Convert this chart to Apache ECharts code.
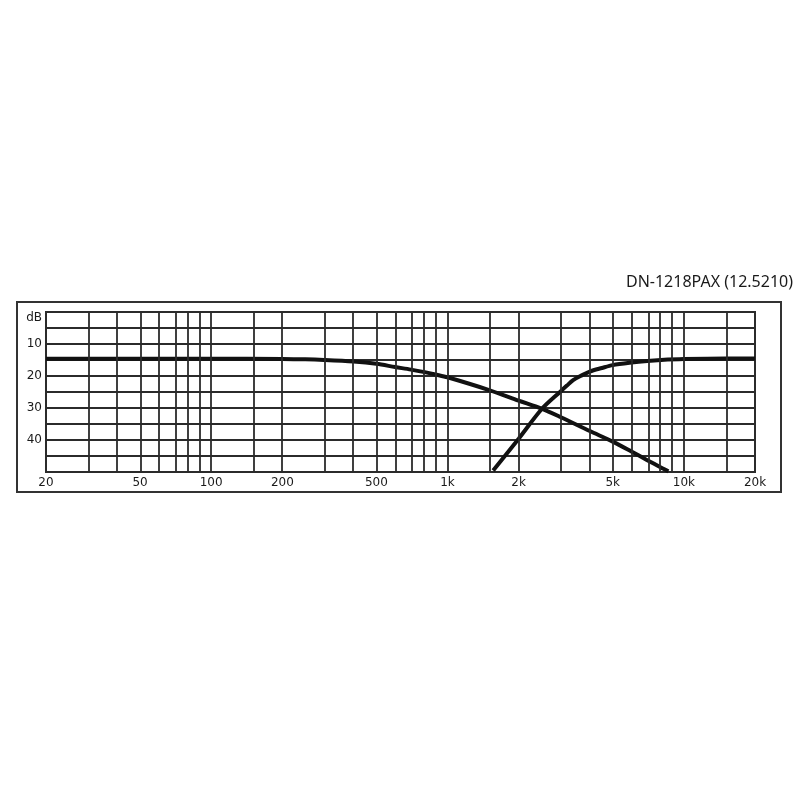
<!doctype html>
<html>
<head>
<meta charset="utf-8">
<title>DN-1218PAX</title>
<style>
	html,body{margin:0;padding:0;background:#fff;}
	#chart{width:800px;height:800px;}
</style>
</head>
<body>
	<div id="chart"></div>
	<script src="https://cdn.jsdelivr.net/npm/echarts@6.0.0/dist/echarts.min.js" type="text/javascript" charset="utf-8"></script>
	<script type="text/javascript">
		// 数据
		var titleText = 'DN-1218PAX (12.5210)';
		var lowFreq = [20, 50, 100, 200, 250, 300, 400, 500, 600, 700, 800, 900, 1000, 1500, 2000, 2500, 3000, 4000, 5000, 6000, 7000, 8000, 8600];
		var lowDb = [14.6, 14.6, 14.6, 14.7, 14.8, 15.0, 15.5, 16.2, 17.2, 18.0, 18.8, 19.6, 20.4, 24.4, 27.7, 30.2, 32.8, 37.2, 40.5, 43.6, 46.3, 48.6, 49.8];
		var highFreq = [1560, 2000, 2500, 3000, 3200, 3400, 3700, 4000, 4500, 5000, 6000, 7000, 8000, 10000, 15000, 20000];
		var highDb = [49.5, 39.6, 30.4, 24.9, 23.0, 21.3, 19.8, 18.6, 17.5, 16.6, 15.8, 15.3, 15.0, 14.7, 14.5, 14.5];
		var gridFreq = [30, 40, 50, 60, 70, 80, 90, 100, 150, 200, 300, 400, 500, 600, 700, 800, 900, 1000, 1500, 2000, 3000, 4000, 5000, 6000, 7000, 8000, 9000, 10000, 15000];
		var labelFreq = [20, 50, 100, 200, 500, 1000, 2000, 5000, 10000, 20000];
		var dbLabels = [10, 20, 30, 40];

		var lg = function(f){ return Math.log10(f); };
		function pairs(fs, ds){
			return fs.map(function(f, i){ return [lg(f), ds[i]]; });
		}
		function fmtFreq(v){
			var f = Math.round(Math.pow(10, v));
			return f >= 1000 ? (f / 1000) + 'k' : String(f);
		}

		var lineColor = '#2b2b2b';
		var chart = echarts.init(document.getElementById('chart'));
		var option = {
			animation: false,
			backgroundColor: '#fff',
			grid: {
				left: 46,
				right: 45,
				top: 312,
				bottom: 328,
				show: true,
				borderColor: lineColor,
				borderWidth: 2
			},
			graphic: [{
				type: 'rect',
				shape: { x: 17, y: 302, width: 764, height: 190 },
				style: { fill: 'none', stroke: '#333', lineWidth: 2 }
			}, {
				type: 'text',
				x: 793,
				y: 282,
				style: {
					text: titleText,
					textAlign: 'right',
					textVerticalAlign: 'middle',
					font: '16px "Noto Sans"',
					fill: '#1a1a1a'
				}
			}],
			xAxis: {
				type: 'value',
				min: lg(20),
				max: lg(20000),
				axisLine: { show: false },
				axisTick: { show: false },
				splitLine: { show: false },
				axisLabel: {
					customValues: labelFreq.map(lg),
					formatter: fmtFreq,
					margin: 5,
					color: '#1a1a1a',
					fontFamily: 'DejaVu Sans',
					fontSize: 12
				}
			},
			yAxis: {
				type: 'value',
				inverse: true,
				min: 0,
				max: 50,
				interval: 5,
				axisLine: { show: false },
				axisTick: { show: false },
				splitLine: { lineStyle: { color: lineColor, width: 1.8 } },
				axisLabel: {
					margin: 4,
					color: '#1a1a1a',
					fontFamily: 'DejaVu Sans',
					fontSize: 12,
					verticalAlignMinLabel: 'top',
					formatter: function(v){
						if (v === 0) return 'dB';
						return dbLabels.indexOf(v) >= 0 ? String(v) : '';
					}
				}
			},
			series: [{
				name: 'grid',
				type: 'line',
				data: [],
				silent: true,
				markLine: {
					silent: true,
					symbol: ['none', 'none'],
					label: { show: false },
					lineStyle: { color: lineColor, width: 1.8, type: 'solid' },
					data: gridFreq.map(function(f){ return { xAxis: lg(f) }; })
				}
			}, {
				name: 'low',
				type: 'line',
				data: pairs(lowFreq, lowDb),
				smooth: 0.3,
				showSymbol: false,
				lineStyle: { color: '#111', width: 4 }
			}, {
				name: 'high',
				type: 'line',
				data: pairs(highFreq, highDb),
				smooth: 0.3,
				showSymbol: false,
				lineStyle: { color: '#111', width: 4 }
			}]
		};
		chart.setOption(option);
	</script>
</body>
</html>
